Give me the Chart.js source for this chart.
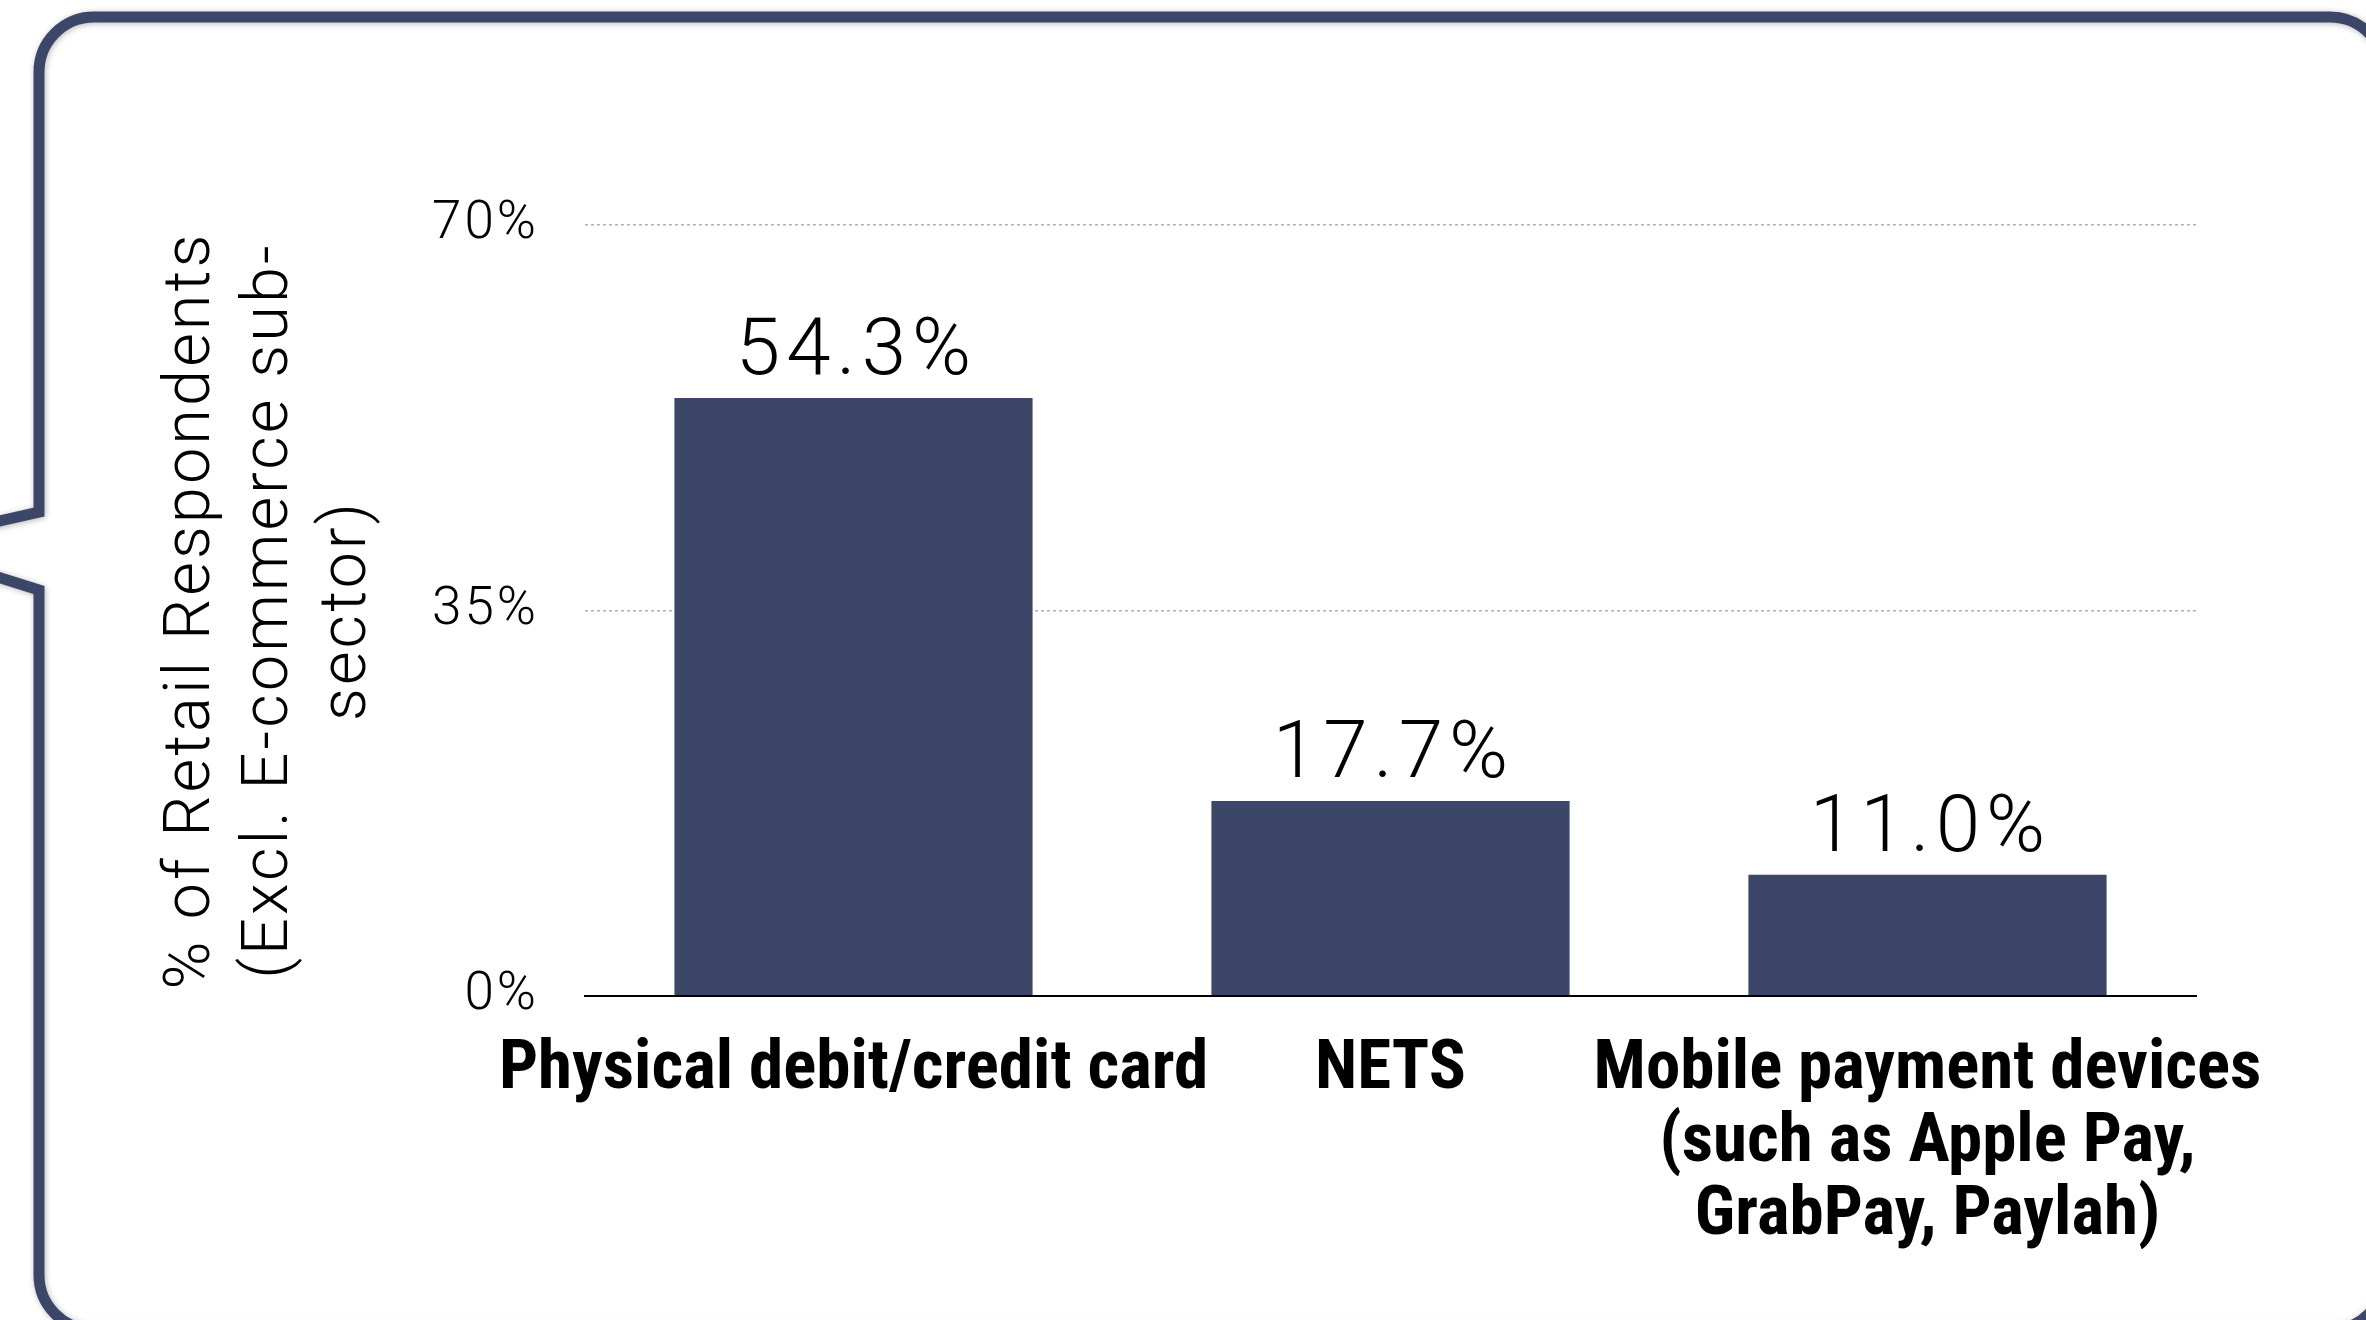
<!DOCTYPE html>
<html>
<head>
<meta charset="utf-8">
<script src="https://cdn.jsdelivr.net/npm/chart.js@4.4.1/dist/chart.umd.min.js"></script>
<style>
  html, body { margin: 0; padding: 0; background: #ffffff; }
  #wrap { position: relative; width: 2366px; height: 1320px; overflow: hidden; }
  canvas { display: block; }
</style>
</head>
<body>
<div id="wrap"><canvas id="c" width="2366" height="1320"></canvas></div>
<script>
// ---- data ----
const categories = [
  ['Physical debit/credit card'],
  ['NETS'],
  ['Mobile payment devices', '(such as Apple Pay,', 'GrabPay, Paylah)']
];
const shareValues = [54.3, 17.7, 11.0];
const yTickValues = [0, 35, 70];
const yAxisTitle = ['% of Retail Respondents', '(Excl. E-commerce sub-', 'sector)'];

// ---- styles ----
const NAVY = '#3b4669';
const LIGHT_FONT = "Roboto, 'Liberation Sans', Arial, sans-serif";
const COND_FONT = "'Roboto Condensed', 'Liberation Sans', Arial, sans-serif";

function setSpacing(ctx, px) {
  if ('letterSpacing' in ctx) ctx.letterSpacing = px + 'px';
}

// callout frame drawn behind the chart; also sets letter spacing for the y axis texts
const calloutPlugin = {
  id: 'callout',
  beforeDraw(chart) {
    const ctx = chart.ctx;
    const W = chart.width, H = chart.height;
    ctx.save();
    ctx.fillStyle = '#ffffff';
    ctx.fillRect(0, 0, W, H);
    const L = 39, T = 17, R = 2385, B = 1330, r = 55;
    ctx.beginPath();
    ctx.moveTo(L, 512);
    ctx.lineTo(L, T + r);
    ctx.arcTo(L, T, L + r, T, r);
    ctx.lineTo(R - r, T);
    ctx.arcTo(R, T, R, T + r, r);
    ctx.lineTo(R, B - r);
    ctx.arcTo(R, B, R - r, B, r);
    ctx.lineTo(L + r, B);
    ctx.arcTo(L, B, L, B - r, r);
    ctx.lineTo(L, 590);
    ctx.lineTo(-105, 545);
    ctx.closePath();
    ctx.shadowColor = 'rgba(0,0,0,0.28)';
    ctx.shadowBlur = 6;
    ctx.shadowOffsetX = 1;
    ctx.shadowOffsetY = 1;
    ctx.lineWidth = 11;
    ctx.lineJoin = 'miter';
    ctx.strokeStyle = NAVY;
    ctx.stroke();
    ctx.restore();
    setSpacing(ctx, 3);
  },
  afterDraw(chart) {
    setSpacing(chart.ctx, 0);
  }
};

// value labels above the bars
const valueLabelPlugin = {
  id: 'valueLabels',
  afterDatasetsDraw(chart) {
    const ctx = chart.ctx;
    const meta = chart.getDatasetMeta(0);
    ctx.save();
    const sp = 6;
    setSpacing(ctx, sp);
    ctx.font = '300 80px ' + LIGHT_FONT;
    ctx.fillStyle = '#000000';
    ctx.textAlign = 'center';
    ctx.textBaseline = 'alphabetic';
    meta.data.forEach((bar, i) => {
      const v = chart.data.datasets[0].data[i];
      ctx.fillText(v.toFixed(1) + '%', bar.x + sp / 2, bar.y - 24);
    });
    ctx.restore();
    setSpacing(ctx, 0);
  }
};

new Chart(document.getElementById('c'), {
  type: 'bar',
  data: {
    labels: categories,
    datasets: [{
      data: shareValues,
      backgroundColor: NAVY,
      borderWidth: 0,
      barPercentage: 0.667,
      categoryPercentage: 1.0
    }]
  },
  options: {
    responsive: false,
    devicePixelRatio: 1,
    animation: false,
    layout: { padding: { left: 154, right: 170, top: 225, bottom: 44 } },
    plugins: { legend: { display: false }, tooltip: { enabled: false } },
    scales: {
      x: {
        grid: { display: false, drawTicks: false },
        border: { display: true, color: '#000000', width: 2, z: 1 },
        ticks: {
          z: 1,
          color: '#000000',
          font: { family: COND_FONT, size: 69, weight: 'bold', lineHeight: 73 / 69 },
          padding: 38,
          maxRotation: 0,
          autoSkip: false
        },
        afterFit(scale) {
          scale.height = 280;
          scale.paddingLeft = 0;
          scale.paddingRight = 0;
        }
      },
      y: {
        min: 0,
        max: 70,
        afterBuildTicks(scale) { scale.ticks = yTickValues.map(v => ({ value: v })); },
        grid: {
          drawTicks: false,
          lineWidth: 1.5,
          color: (c) => (c.tick && c.tick.value === 0) ? 'rgba(0,0,0,0)' : '#b0b0b0'
        },
        border: { display: false, dash: [3, 3] },
        ticks: {
          color: '#000000',
          font: { family: LIGHT_FONT, size: 53, weight: '300' },
          padding: 46,
          callback: (v) => v + '%'
        },
        title: {
          display: true,
          text: yAxisTitle,
          color: '#000000',
          font: { family: LIGHT_FONT, size: 65, weight: '300', lineHeight: 78 / 65 },
          padding: { top: 0, bottom: 0 }
        },
        afterFit(scale) {
          scale.width = 431;
          scale.paddingTop = 0;
          scale.paddingBottom = 0;
        }
      }
    }
  },
  plugins: [calloutPlugin, valueLabelPlugin]
});
</script>
</body>
</html>
